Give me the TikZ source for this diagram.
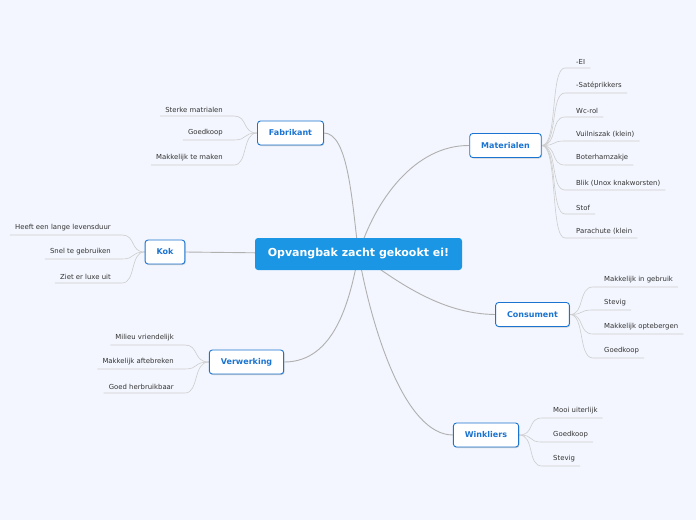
\documentclass[tikz,border=0pt]{standalone}
\usepackage{fontspec}
\setmainfont{DejaVu Sans}
\usepackage{tikz}
\usetikzlibrary{positioning,shadows,backgrounds}
\definecolor{bgblue}{HTML}{F3F6FE}
\definecolor{centerblue}{HTML}{1A96E4}
\definecolor{topicblue}{HTML}{1B74D0}
\definecolor{branchgray}{HTML}{B0B0B0}
\definecolor{twiggray}{HTML}{CDCDCD}
\definecolor{txtgray}{HTML}{333333}

\begin{document}
\begin{tikzpicture}[
x=1pt, y=-1pt,
central/.style={fill=centerblue, rounded corners=3pt, text=white, font=\bfseries\fontsize{11}{13}\selectfont, minimum width=207pt, minimum height=32pt},
topic/.style={draw=topicblue, fill=white, line width=0.9pt, rounded corners=3pt, text=topicblue, font=\bfseries\fontsize{8}{10}\selectfont, minimum height=24pt, inner xsep=11.5pt, drop shadow={shadow xshift=0.8pt, shadow yshift=-1pt, fill=black!35, opacity=0.5}},
leaf/.style={text=txtgray, font=\fontsize{6.9}{8}\selectfont, inner xsep=5pt, inner ysep=3.5pt},
branch/.style={draw=branchgray, line width=0.9pt},
twig/.style={draw=twiggray, line width=0.6pt}
]
\useasboundingbox (0,0) rectangle (696,520);

% central topic and main topics
\node[central] (ei) at (358.5,254) {Opvangbak zacht gekookt ei!};
\node[topic] (fab) at (290.5,133) {Fabrikant};
\node[topic] (mat) at (505.5,145.5) {Materialen};
\node[topic] (kok) at (165,252) {Kok};
\node[topic] (con) at (532.5,314.5) {Consument};
\node[topic] (ver) at (246.5,362) {Verwerking};
\node[topic] (win) at (486,435) {Winkliers};

% subtopics, right side
\foreach \n/\y/\t in {m1/68/-EI, m2/93/-Satéprikkers, m3/117/Wc-rol, m4/141/Vuilniszak (klein), m5/165/Boterhamzakje, m6/190/Blik (Unox knakworsten), m7/214/Stof, m8/238/Parachute (klein}
  \node[leaf, anchor=south west] (\n) at (571,\y) {\t};
\foreach \n/\y/\t in {c1/287/Makkelijk in gebruik, c2/310/Stevig, c3/334/Makkelijk optebergen, c4/358/Goedkoop}
  \node[leaf, anchor=south west] (\n) at (599,\y) {\t};
\foreach \n/\y/\t in {w1/418/Mooi uiterlijk, w2/442/Goedkoop, w3/466/Stevig}
  \node[leaf, anchor=south west] (\n) at (548,\y) {\t};

% subtopics, left side
\foreach \n/\y/\t in {f1/116/Sterke matrialen, f2/140/Goedkoop, f3/165/Makkelijk te maken}
  \node[leaf, anchor=south east] (\n) at (228,\y) {\t};
\foreach \n/\y/\t in {k1/235/Heeft een lange levensduur, k2/259/Snel te gebruiken, k3/283/Ziet er luxe uit}
  \node[leaf, anchor=south east] (\n) at (116,\y) {\t};
\foreach \n/\y/\t in {v1/345/Milieu vriendelijk, v2/369/Makkelijk aftebreken, v3/393/Goed herbruikbaar}
  \node[leaf, anchor=south east] (\n) at (179,\y) {\t};

\begin{scope}[on background layer]
\fill[bgblue] (0,0) rectangle (696,520);
% main branches
\draw[branch] (fab.east) .. controls (348,133) and (352,200) .. (ei.center);
\draw[branch] (mat.west) .. controls (415,145) and (375,200) .. (ei.center);
\draw[branch] (kok.east) -- (ei.center);
\draw[branch] (con.west) .. controls (440,314) and (395,280) .. (ei.center);
\draw[branch] (ver.east) .. controls (335,362) and (350,300) .. (ei.center);
\draw[branch] (win.west) .. controls (405,435) and (372,330) .. (ei.center);
% twigs
\foreach \n in {m1,m2,m3,m4,m5,m6,m7,m8}
  \draw[twig] (mat.east) .. controls (558,145.5) and (550,0 |- \n.south west) .. ([xshift=-6pt]\n.south west) -- (\n.south east);
\foreach \n in {c1,c2,c3,c4}
  \draw[twig] (con.east) .. controls (585,314.5) and (578,0 |- \n.south west) .. ([xshift=-6pt]\n.south west) -- (\n.south east);
\foreach \n in {w1,w2,w3}
  \draw[twig] (win.east) .. controls (535,435) and (527,0 |- \n.south west) .. ([xshift=-6pt]\n.south west) -- (\n.south east);
\foreach \n in {f1,f2,f3}
  \draw[twig] (fab.west) .. controls (242,133) and (248,0 |- \n.south east) .. ([xshift=6pt]\n.south east) -- (\n.south west);
\foreach \n in {k1,k2,k3}
  \draw[twig] (kok.west) .. controls (130,252) and (136,0 |- \n.south east) .. ([xshift=6pt]\n.south east) -- (\n.south west);
\foreach \n in {v1,v2,v3}
  \draw[twig] (ver.west) .. controls (193,362) and (199,0 |- \n.south east) .. ([xshift=6pt]\n.south east) -- (\n.south west);
\end{scope}
\end{tikzpicture}
\end{document}
